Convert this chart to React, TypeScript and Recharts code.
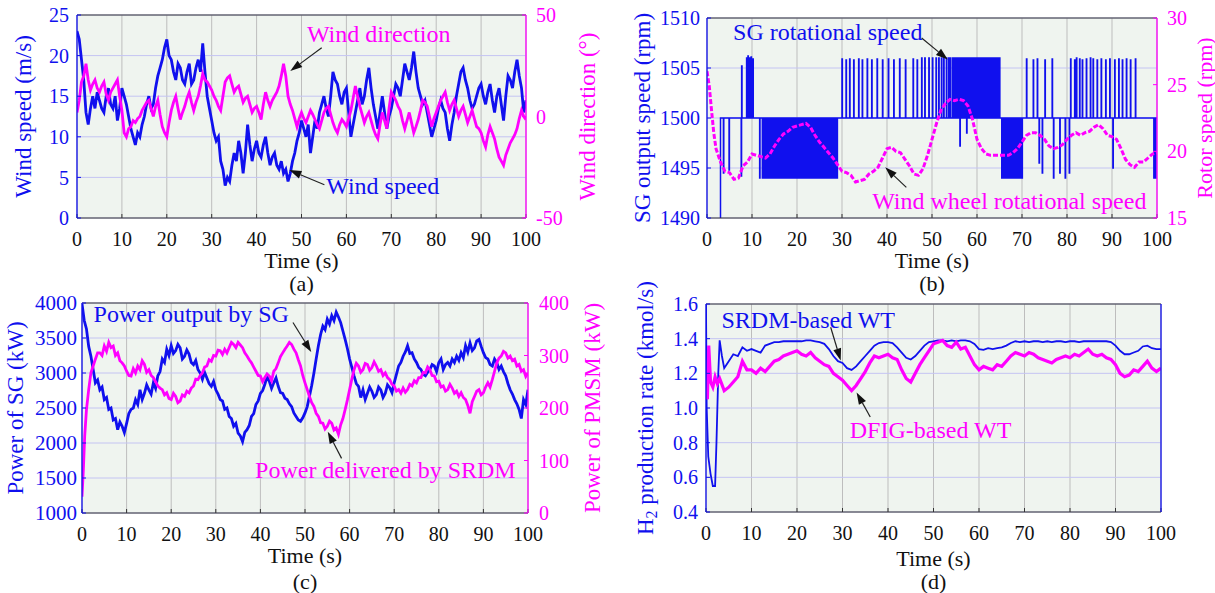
import React from 'react';
import { LineChart, Line, XAxis, YAxis, CartesianGrid, ReferenceLine, ReferenceDot, Label } from 'recharts';

const SERIF = '"Liberation Serif", "Times New Roman", serif';
const BLUE = '#1010ee';
const MAGENTA = '#ff00ff';
const AXIS_DARK = '#333333';
const PLOT_BG = '#eff4ef';
const GRID_V = '#bdbdbd';
const GRID_H = '#c4c4f2';

const timeTicks = [0, 10, 20, 30, 40, 50, 60, 70, 80, 90, 100];

// (a) wind, 0.5 s step
const windSpeed = [
  23, 22, 19.5, 17, 13, 11.5, 13.5, 15, 13.5, 15.5, 14.5, 13.5, 13, 15, 16, 14, 13.5, 15, 12, 13.5,
  16, 15, 14, 12.5, 11, 10, 9, 10.5, 10, 11.5, 12.5, 14, 15, 13.5, 14, 16, 17.5, 18.5, 19.5, 21,
  22, 20, 19.5, 18, 17, 19, 18.5, 17, 16.5, 18, 19, 16.5, 17, 18.5, 19.5, 18, 21.5, 18, 15, 13.5,
  12, 10.5, 9.5, 10, 7, 6, 4, 5, 4.5, 6.5, 8, 7, 9.5, 8, 5.5, 8, 11.5, 9, 7, 8.5,
  9.5, 8, 7.5, 9, 10, 8, 6.5, 7.5, 8, 6.5, 6, 7, 5.5, 6, 4.5, 5.5, 7, 8, 9.5, 10.5,
  12, 11, 10, 11.5, 8, 10, 12, 11, 13, 14, 15, 13.5, 12.5, 15, 18, 17, 16.5, 15, 14, 15.5,
  16, 13, 10, 11.5, 13, 14.5, 16, 14, 15, 17, 18.5, 16, 14, 12.5, 11, 13, 15, 13, 11, 12.5,
  13.5, 15, 16.5, 16, 15, 17, 19, 18, 17, 18.5, 20.5, 18, 16, 15, 14, 14.5, 13, 11.5, 10, 11,
  12, 13.5, 14.5, 13.5, 13, 11, 9.5, 11.5, 13, 15, 16.5, 18, 18.5, 17, 16, 14.5, 13.5, 14, 15, 16,
  16.5, 15, 14, 15.5, 16.5, 14.5, 13, 15, 16, 14, 12, 15, 17.5, 17, 16, 18, 19.5, 17.5, 16, 13,
  14.5,
];
const windDirection = [
  2, 8, 17, 20, 26, 18, 13, 16, 18, 14, 12, 15, 17, 11, 8, 12, 14, 16, 18, 10,
  3, -8, -10, -6, -5, -2, -3, -1, 0, 3, 5, 7, 8, 4, 0, 5, 8, 1, -5, -8,
  -10, -3, 3, 7, 10, 4, -1.5, 2, 5, 9, 12, 7, 3, 7, 10, 15, 21, 18, 17, 15,
  13, 10, 8, 5, 3, 10, 17, 19, 20, 16, 12, 14, 15, 11, 7, 9, 10, 6, 2, 4,
  5, 2, -1.5, 6, 12, 8, 5, 8, 10, 12, 15, 20, 26, 20, 10, 6, 3, -1, -5, -1,
  2, -1, -3, 0, 3, 1, -1.5, -4, -6, -2, 2, 4, 5, 1, -3, -6, -8, -4, -1.5, -3,
  -5, -1, 3, 9, 15, 10, 5, 1, -3, 0, 2, -2, -6, -9, -11, -4, 2, -2, -6, 4,
  12, 10, 8, 5, 3, -2, -6, -2, 2, -3, -8, -5, -1.5, 3, 8, 7, 5, 0, -5, -1,
  2, 5, 8, 10, 12, 7, 3, 6, 8, 4, 0, 3, 5, 1, -3, 0, 3, -1, -5, -6,
  -8, -12, -15, -9, -5, -8, -11, -16, -20, -22, -24, -19, -16, -13, -11, -9, -6, -1, 3, 0,
  -1.5,
];

// (b) SG speed: switching spikes around 1500 rpm
const sgStart = 3.0;
const sgSpikes: number[][] = [
  [3.65, 1494.5], [4.9, 1494.8], [7.6, 1494.2], [7.7, 1505.2], [8.8, 1506], [9.1, 1506.2], [9.4, 1506],
  [9.8, 1506.1], [10.2, 1505.9], [11.7, 1494],
  [30.0, 1505.9], [30.9, 1505.8], [31.7, 1505.9], [32.6, 1505.8], [33.7, 1505.9], [34.5, 1505.8],
  [35.6, 1505.9], [36.6, 1505.8], [37.8, 1505.9], [39.0, 1505.8], [40.3, 1505.9], [41.5, 1505.8],
  [42.8, 1505.9], [44.1, 1505.8], [45.8, 1505.9], [46.7, 1505.8],
  [56.2, 1497.2], [57.7, 1498.5],
  [71.0, 1505.9], [72.5, 1505.8], [73.4, 1505.9], [73.8, 1495.5], [74.5, 1494.5], [75.1, 1505.8],
  [76.7, 1505.9], [77.0, 1494], [78.4, 1494.5], [79.6, 1494], [80.5, 1494.5],
  [80.8, 1505.9], [81.7, 1505.8], [82.1, 1506], [82.8, 1505.9], [83.4, 1505.8], [84.3, 1505.9],
  [85.2, 1506], [85.8, 1505.9], [86.7, 1505.8], [87.6, 1505.9], [88.6, 1505.8], [89.5, 1505.9],
  [90.2, 1495], [90.6, 1505.8], [91.5, 1505.9], [92.3, 1505.8], [93.2, 1505.9], [94.1, 1505.8],
  [95.2, 1505.9], [99.3, 1494], [99.7, 1494],
];
const sgDenseLow = [
  12.3, 12.6, 12.9, 13.3, 13.6, 13.9, 14.2, 14.6, 14.9, 15.2, 15.5, 15.9, 16.2, 16.5, 16.8, 17.2, 17.5,
  17.8, 18.1, 18.5, 18.8, 19.1, 19.4, 19.8, 20.1, 20.4, 20.7, 21.1, 21.4, 21.7, 22.0, 22.4, 22.7, 23.0,
  23.3, 23.7, 24.0, 24.3, 24.6, 25.0, 25.3, 25.6, 25.9, 26.3, 26.6, 26.9, 27.2, 27.6, 27.9, 28.2, 28.5, 28.9,
  65.5, 65.8, 66.1, 66.5, 66.8, 67.1, 67.4, 67.8, 68.1, 68.4, 68.7, 69.1, 69.4, 69.7, 70.0,
];
const sgDenseHigh = [
  47.7, 48.4, 49.3, 50.1, 50.9, 51.5, 52.1, 52.6, 53.2, 53.7, 54.1, 54.6, 55.0, 55.4, 55.7, 56.0,
  56.4, 56.7, 57.0, 57.3, 57.6, 58.0, 58.3, 58.6, 58.9, 59.2, 59.5, 59.8, 60.1, 60.4, 60.7, 61.0,
  61.3, 61.6, 61.9, 62.2, 62.5, 62.8, 63.1, 63.4, 63.7, 64.0, 64.3, 64.6, 65.0,
];
const SG_LOW = 1494;
const SG_HIGH = 1506;
const SG_BASE = 1500;

// (b) wind wheel speed, head then 1 s step from t=3
const wheelHead = [[0, 26], [0.5, 24.9], [1, 23.1], [1.5, 21.4], [2, 20.2]];
const wheelSpeed = [
  19.2, 18.5, 18.4, 17.9, 18.0, 18.9, 19.2, 19.8, 19.7, 19.6, 19.5, 19.8, 20.4, 20.9, 21.3, 21.5, 21.8,
  21.9, 22.0, 22.1, 21.8, 21.2, 20.7, 20.3, 19.9, 19.5, 19.0, 18.5, 18.4, 18.2, 17.7, 17.8, 17.9, 18.3,
  18.5, 18.8, 19.5, 20.2, 20.3, 20.0, 19.9, 19.4, 18.9, 18.3, 18.2, 18.7, 19.7, 20.9, 22.1, 23.1, 23.6,
  23.9, 23.8, 23.9, 23.8, 23.4, 22.4, 20.9, 20.2, 19.8, 19.7, 19.7, 19.7, 19.7, 19.7, 19.9, 20.2, 20.7,
  21.2, 21.4, 21.4, 21.2, 20.9, 20.4, 20.2, 20.3, 20.5, 20.9, 21.2, 21.4, 21.2, 21.4, 21.5, 21.8, 22.0,
  21.7, 21.2, 21.1, 20.9, 20.2, 19.4, 19.0, 18.8, 19.2, 19.2, 19.5, 19.8, 19.9,
];

// (c) power, 0.5 s step
const powerSG = [
  3990, 3750, 3630, 3380, 3240, 3050, 2860, 2900, 2760, 2800, 2620, 2650, 2480, 2500, 2330, 2350, 2190, 2300, 2240, 2150,
  2280, 2420, 2480, 2500, 2620, 2550, 2760, 2620, 2710, 2830, 2760, 2700, 2860, 2780, 2960, 3020, 3200, 3150, 3340, 3250,
  3390, 3280, 3320, 3410, 3360, 3200, 3240, 3330, 3270, 3150, 3120, 3180, 3050, 3000, 2910, 3010, 2930, 2850, 2810, 2880,
  2760, 2700, 2620, 2600, 2480, 2500, 2380, 2350, 2240, 2280, 2140, 2100, 2020, 2150, 2190, 2250, 2380, 2420, 2550, 2600,
  2710, 2750, 2840, 2950, 2880, 2780, 2860, 2930, 2810, 2720, 2710, 2640, 2620, 2560, 2520, 2430, 2380, 2330, 2310, 2360,
  2430, 2520, 2670, 2820, 3000, 3200, 3390, 3550, 3670, 3620, 3770, 3700, 3820, 3750, 3870, 3800, 3720, 3600, 3480, 3350,
  3200, 3080, 2960, 2850, 2810, 2650, 2760, 2620, 2710, 2800, 2740, 2650, 2690, 2800, 2760, 2650, 2710, 2830, 2790, 2720,
  2860, 2980, 3100, 3150, 3240, 3300, 3390, 3280, 3290, 3200, 3150, 3080, 3050, 2980, 2960, 3010, 3050, 3120, 3100, 3020,
  3150, 3200, 3050, 3120, 3150, 3100, 3200, 3150, 3240, 3180, 3290, 3220, 3390, 3300, 3430, 3320, 3360, 3460, 3480, 3380,
  3290, 3220, 3200, 3120, 3100, 3200, 3150, 3050, 3100, 3020, 2960, 2850, 2760, 2700, 2620, 2560, 2480, 2350, 2620, 2550,
  2760,
];
const srdmHead = [[0, 31], [0.3, 82], [0.6, 146], [1, 197], [1.5, 235], [2, 267], [2.5, 280]];
const powerSRDM = [
  293, 305, 305, 300, 318, 308, 325, 315, 318, 300, 305, 290, 286, 280, 270, 262, 261, 275, 267, 280,
  273, 290, 283, 268, 273, 262, 258, 250, 242, 238, 235, 225, 229, 218, 216, 228, 222, 210, 213, 225,
  222, 232, 229, 238, 242, 255, 254, 262, 267, 278, 280, 292, 289, 300, 299, 310, 309, 302, 312, 305,
  315, 325, 321, 315, 325, 320, 315, 305, 299, 292, 286, 278, 270, 262, 261, 250, 258, 265, 261, 252,
  270, 275, 286, 298, 305, 312, 318, 325, 321, 312, 305, 292, 280, 262, 248, 235, 222, 210, 203, 190,
  184, 172, 171, 160, 165, 175, 171, 158, 162, 150, 168, 180, 197, 215, 235, 255, 273, 285, 280, 268,
  273, 285, 283, 272, 277, 288, 280, 270, 273, 262, 267, 258, 254, 245, 242, 232, 235, 228, 238, 230,
  235, 245, 242, 252, 248, 258, 258, 268, 267, 278, 273, 262, 261, 250, 251, 240, 242, 232, 235, 245,
  238, 228, 232, 222, 229, 220, 216, 205, 190, 212, 222, 232, 235, 225, 229, 240, 248, 240, 254, 270,
  286, 295, 299, 308, 305, 295, 299, 290, 293, 280, 283, 270, 273, 260, 267,
];

// (d) H2 production rate, head then 1 s step from t=4
const srdmWtHead = [[0, 1.6], [0.15, 1.0], [0.5, 0.72], [1, 0.62], [1.5, 0.55], [2, 0.55], [2.3, 0.8], [2.7, 1.2], [3, 1.39], [3.5, 1.3]];
const srdmWt = [
  1.23, 1.27, 1.31, 1.30, 1.35, 1.33, 1.34, 1.33, 1.32, 1.36, 1.37, 1.38, 1.38, 1.385, 1.385, 1.385, 1.385,
  1.385, 1.39, 1.39, 1.385, 1.38, 1.37, 1.34, 1.30, 1.27, 1.26, 1.23, 1.22, 1.24, 1.27, 1.30, 1.33, 1.36,
  1.375, 1.38, 1.38, 1.375, 1.35, 1.32, 1.29, 1.28, 1.30, 1.33, 1.36, 1.38, 1.385, 1.39, 1.39, 1.385, 1.39,
  1.385, 1.39, 1.39, 1.385, 1.37, 1.34, 1.335, 1.345, 1.34, 1.345, 1.35, 1.36, 1.375, 1.385, 1.38, 1.385,
  1.38, 1.385, 1.385, 1.38, 1.385, 1.38, 1.385, 1.385, 1.38, 1.385, 1.385, 1.38, 1.385, 1.385, 1.385, 1.385,
  1.385, 1.385, 1.38, 1.36, 1.33, 1.31, 1.31, 1.32, 1.33, 1.355, 1.36, 1.345, 1.34, 1.34,
];
const dfigWtHead = [[0, 1.1], [0.3, 1.05], [0.6, 1.36], [1, 1.15], [1.5, 1.12], [2, 1.18], [2.5, 1.14], [3, 1.17]];
const dfigWt = [
  1.10, 1.12, 1.15, 1.18, 1.27, 1.22, 1.22, 1.20, 1.23, 1.21, 1.24, 1.27, 1.28, 1.30, 1.31, 1.32, 1.33,
  1.31, 1.30, 1.32, 1.29, 1.27, 1.25, 1.24, 1.20, 1.18, 1.16, 1.13, 1.10, 1.13, 1.17, 1.21, 1.26, 1.30,
  1.29, 1.30, 1.31, 1.29, 1.28, 1.22, 1.17, 1.15, 1.20, 1.25, 1.29, 1.33, 1.37, 1.38, 1.39, 1.36, 1.35,
  1.38, 1.34, 1.35, 1.30, 1.25, 1.22, 1.24, 1.23, 1.22, 1.25, 1.24, 1.27, 1.30, 1.32, 1.31, 1.30, 1.32,
  1.31, 1.29, 1.28, 1.27, 1.26, 1.28, 1.29, 1.30, 1.29, 1.31, 1.30, 1.32, 1.34, 1.31, 1.30, 1.31, 1.29,
  1.28, 1.25, 1.20, 1.18, 1.19, 1.22, 1.21, 1.24, 1.27, 1.23, 1.21, 1.23,
];

type Pt = { t: number; v: number };
const stepPts = (vals: number[], step: number, t0 = 0): Pt[] =>
  vals.map((v, i) => ({ t: Math.round((t0 + i * step) * 100) / 100, v }));
const pairPts = (p: number[][]): Pt[] => p.map(([t, v]) => ({ t, v }));

const buildSg = (): Pt[] => {
  const spikes: number[][] = [
    ...sgSpikes,
    ...sgDenseLow.map((t) => [t, SG_LOW]),
    ...sgDenseHigh.map((t) => [t, SG_HIGH]),
  ].sort((a, b) => a[0] - b[0]);
  const pts: Pt[] = [{ t: 0, v: 1489 }, { t: sgStart, v: 1489 }, { t: sgStart, v: SG_BASE }];
  spikes.forEach(([t, lvl]) => {
    pts.push({ t, v: SG_BASE }, { t, v: lvl }, { t: t + 0.08, v: lvl }, { t: t + 0.08, v: SG_BASE });
  });
  pts.push({ t: 100, v: SG_BASE });
  return pts;
};

type AxisId = 'l' | 'r';
type SeriesDef = { key: string; data: Pt[]; axis: AxisId; color: string; width: number; dash?: string };
type NoteDef = { text: string; color: string; t: number; v: number; axis: AxisId };
type ArrowDef = { t1: number; v1: number; t2: number; v2: number; axis: AxisId };

const arrowShape = (p: any) => {
  const { x1, y1, x2, y2 } = p;
  const ang = Math.atan2(y2 - y1, x2 - x1);
  const L = 12;
  const W = 4;
  const bx = x2 - L * Math.cos(ang);
  const by = y2 - L * Math.sin(ang);
  const px = -Math.sin(ang) * W;
  const py = Math.cos(ang) * W;
  return (
    <g>
      <line x1={x1} y1={y1} x2={bx} y2={by} stroke="#222" strokeWidth={1.2} />
      <polygon points={`${x2},${y2} ${bx + px},${by + py} ${bx - px},${by - py}`} fill="#111" />
    </g>
  );
};

const noteShape = (text: string, color: string) => (p: any) => (
  <text x={p.cx} y={p.cy} fill={color} fontFamily={SERIF} fontSize={24} dominantBaseline="central">
    {text}
  </text>
);

const yTitle = (text: string, color: string, dx: number, size = 23) => (props: any) => {
  const vb = props.viewBox || { x: 0, y: 0, width: 0, height: 0 };
  const x = vb.x + dx;
  const y = vb.y + vb.height / 2;
  return (
    <text x={x} y={y} transform={`rotate(-90 ${x} ${y})`} textAnchor="middle" dominantBaseline="central"
      fill={color} fontFamily={SERIF} fontSize={size}>
      {text}
    </text>
  );
};

// H2 title: starts just below the plot bottom and runs upward
const h2Title = (props: any) => {
  const vb = props.viewBox || { x: 0, y: 0, width: 0, height: 0 };
  const x = vb.x + 45;
  const y = vb.y + vb.height + 23;
  return (
    <text x={x} y={y} transform={`rotate(-90 ${x} ${y})`} textAnchor="start" dominantBaseline="central"
      fill={BLUE} fontFamily={SERIF} fontSize={23}>
      <tspan>H</tspan>
      <tspan dy={6} fontSize={16}>2</tspan>
      <tspan dy={-6}> production rate (kmol/s)</tspan>
    </text>
  );
};

const xTitle = (letter: string, dy1: number, dy2: number) => (props: any) => {
  const vb = props.viewBox || { x: 0, y: 0, width: 0, height: 0 };
  const cx = vb.x + vb.width / 2;
  return (
    <g fontFamily={SERIF} fill="#111" textAnchor="middle" dominantBaseline="central">
      <text x={cx} y={vb.y + dy1} fontSize={22}>Time (s)</text>
      <text x={cx} y={vb.y + dy2} fontSize={22}>({letter})</text>
    </g>
  );
};

interface PanelProps {
  left: number; top: number; width: number; height: number;
  marginTop: number; leftW: number; rightW: number; xAxisH: number;
  lDomain: [number, number]; lTicks: number[]; lFmt?: (v: number) => string; lFont?: number; lGap: number;
  rDomain: [number, number]; rTicks?: number[]; rColor: string; rGap: number;
  leftTitle: (p: any) => React.ReactNode; rightTitle?: (p: any) => React.ReactNode;
  xLabel: (p: any) => React.ReactNode;
  series: SeriesDef[]; notes: NoteDef[]; arrows: ArrowDef[]; clipLeft?: boolean;
}

const Panel = (pp: PanelProps) => (
  <div style={{ position: 'absolute', left: pp.left, top: pp.top }}>
    <LineChart width={pp.width} height={pp.height} margin={{ top: pp.marginTop, right: 0, bottom: 0, left: 0 }}>
      <CartesianGrid yAxisId="l" horizontal={false} stroke={GRID_V} fill={PLOT_BG} fillOpacity={1} />
      <CartesianGrid yAxisId="l" vertical={false} stroke={GRID_H} />
      <XAxis type="number" dataKey="t" domain={[0, 100]} ticks={timeTicks} allowDataOverflow
        height={pp.xAxisH} tickSize={-4} tickMargin={17.4}
        tick={{ fill: '#111', fontSize: 20, fontFamily: SERIF }}
        tickLine={{ stroke: AXIS_DARK }} axisLine={{ stroke: AXIS_DARK }}
        label={<Label content={pp.xLabel} />} />
      <YAxis yAxisId="l" type="number" domain={pp.lDomain} ticks={pp.lTicks} width={pp.leftW}
        allowDataOverflow={!!pp.clipLeft} tickFormatter={pp.lFmt} interval={0}
        tickSize={-4} tickMargin={4 + pp.lGap}
        tick={{ fill: BLUE, fontSize: pp.lFont || 20, fontFamily: SERIF }}
        tickLine={{ stroke: BLUE }} axisLine={{ stroke: BLUE, strokeWidth: 1.3 }}
        label={<Label content={pp.leftTitle} />} />
      <YAxis yAxisId="r" orientation="right" type="number" domain={pp.rDomain} ticks={pp.rTicks}
        width={pp.rightW} interval={0} tickSize={-4} tickMargin={4 + pp.rGap}
        tick={pp.rTicks ? { fill: pp.rColor, fontSize: 20, fontFamily: SERIF } : false}
        tickLine={pp.rTicks ? { stroke: pp.rColor } : false} axisLine={{ stroke: pp.rColor, strokeWidth: 1.3 }}
        label={pp.rightTitle ? <Label content={pp.rightTitle} /> : undefined} />
      <ReferenceLine yAxisId="l" y={pp.lDomain[1]} stroke={AXIS_DARK} strokeWidth={1} />
      {pp.series.map((s) => (
        <Line key={s.key} yAxisId={s.axis} data={s.data} dataKey="v" type="linear" stroke={s.color}
          strokeWidth={s.width} strokeDasharray={s.dash} dot={false} activeDot={false}
          isAnimationActive={false} />
      ))}
      {pp.arrows.map((a, i) => (
        <ReferenceLine key={'ar' + i} yAxisId={a.axis}
          segment={[{ x: a.t1, y: a.v1 }, { x: a.t2, y: a.v2 }]} shape={arrowShape} />
      ))}
      {pp.notes.map((n, i) => (
        <ReferenceDot key={'nt' + i} yAxisId={n.axis} x={n.t} y={n.v} r={0} shape={noteShape(n.text, n.color)} />
      ))}
    </LineChart>
  </div>
);

export default function App() {
  return (
    <div style={{ position: 'absolute', left: 0, top: 0, width: 1215, height: 593, background: '#fff', overflow: 'hidden' }}>
      <Panel left={0} top={0} width={605} height={300} marginTop={15} leftW={77} rightW={79} xAxisH={82}
        lDomain={[0, 25]} lTicks={[0, 5, 10, 15, 20, 25]} lGap={8}
        rDomain={[-50, 50]} rTicks={[-50, 0, 50]} rColor={MAGENTA} rGap={10}
        leftTitle={yTitle('Wind speed (m/s)', BLUE, 23)}
        rightTitle={yTitle('Wind direction (°)', MAGENTA, 61)}
        xLabel={xTitle('a', 42, 65)}
        series={[
          { key: 'ws', data: stepPts(windSpeed, 0.5), axis: 'l', color: BLUE, width: 2.8 },
          { key: 'wd', data: stepPts(windDirection, 0.5), axis: 'r', color: MAGENTA, width: 2.8 },
        ]}
        arrows={[
          { t1: 54.5, v1: 33.9, t2: 47.5, v2: 22.4, axis: 'r' },
          { t1: 55.1, v1: 4.1, t2: 47.3, v2: 5.9, axis: 'l' },
        ]}
        notes={[
          { text: 'Wind direction', color: MAGENTA, t: 51.2, v: 40.5, axis: 'r' },
          { text: 'Wind speed', color: BLUE, t: 55.5, v: 3.9, axis: 'l' },
        ]} />
      <Panel left={600} top={0} width={615} height={300} marginTop={18} leftW={107} rightW={58} xAxisH={82}
        lDomain={[1490, 1510]} lTicks={[1490, 1495, 1500, 1505, 1510]} lGap={7} clipLeft
        rDomain={[15, 30]} rTicks={[15, 20, 25, 30]} rColor={MAGENTA} rGap={10}
        leftTitle={yTitle('SG output speed (rpm)', BLUE, 42)}
        rightTitle={yTitle('Rotor speed (rpm)', MAGENTA, 47, 22)}
        xLabel={xTitle('b', 42, 65)}
        series={[
          { key: 'sg', data: buildSg(), axis: 'l', color: BLUE, width: 1.5 },
          { key: 'ww', data: [...pairPts(wheelHead), ...stepPts(wheelSpeed, 1, 3)], axis: 'r', color: MAGENTA, width: 3, dash: '5 2' },
        ]}
        arrows={[
          { t1: 47.7, v1: 1508.0, t2: 53.5, v2: 1505.85, axis: 'l' },
          { t1: 44.3, v1: 17.3, t2: 39.6, v2: 18.8, axis: 'r' },
        ]}
        notes={[
          { text: 'SG rotational speed', color: BLUE, t: 5.8, v: 1508.6, axis: 'l' },
          { text: 'Wind wheel rotational speed', color: MAGENTA, t: 36.7, v: 16.3, axis: 'r' },
        ]} />
      <Panel left={0} top={290} width={605} height={303} marginTop={13} leftW={82} rightW={77} xAxisH={80}
        lDomain={[1000, 4000]} lTicks={[1000, 1500, 2000, 2500, 3000, 3500, 4000]} lGap={5} lFont={21}
        rDomain={[0, 400]} rTicks={[0, 100, 200, 300, 400]} rColor={MAGENTA} rGap={11}
        leftTitle={yTitle('Power of SG (kW)', BLUE, 15)}
        rightTitle={yTitle('Power of PMSM (kW)', MAGENTA, 64)}
        xLabel={xTitle('c', 42, 68)}
        series={[
          { key: 'psg', data: stepPts(powerSG, 0.5), axis: 'l', color: BLUE, width: 2.8 },
          { key: 'psr', data: [...pairPts(srdmHead), ...stepPts(powerSRDM, 0.5, 3)], axis: 'r', color: MAGENTA, width: 2.8 },
        ]}
        arrows={[
          { t1: 47.3, v1: 3722, t2: 51.4, v2: 3300, axis: 'l' },
          { t1: 58.2, v1: 104, t2: 55.1, v2: 155, axis: 'r' },
        ]}
        notes={[
          { text: 'Power output by SG', color: BLUE, t: 2.6, v: 3842, axis: 'l' },
          { text: 'Power delivered by SRDM', color: MAGENTA, t: 38.8, v: 82, axis: 'r' },
        ]} />
      <Panel left={600} top={262} width={615} height={331} marginTop={42} leftW={106} rightW={54} xAxisH={81}
        lDomain={[0.4, 1.6]} lTicks={[0.4, 0.6, 0.8, 1.0, 1.2, 1.4, 1.6]} lFmt={(v) => v.toFixed(1)} lGap={8}
        rDomain={[0.4, 1.6]} rColor={BLUE} rGap={10}
        leftTitle={h2Title}
        xLabel={xTitle('d', 46, 69)}
        series={[
          { key: 'srdm', data: [...pairPts(srdmWtHead), ...stepPts(srdmWt, 1, 4)], axis: 'l', color: BLUE, width: 1.8 },
          { key: 'dfig', data: [...pairPts(dfigWtHead), ...stepPts(dfigWt, 1, 4)], axis: 'l', color: MAGENTA, width: 3.2 },
        ]}
        arrows={[
          { t1: 27.4, v1: 1.466, t2: 29.6, v2: 1.274, axis: 'l' },
          { t1: 36.1, v1: 0.948, t2: 33.1, v2: 1.09, axis: 'l' },
        ]}
        notes={[
          { text: 'SRDM-based WT', color: BLUE, t: 3.4, v: 1.508, axis: 'l' },
          { text: 'DFIG-based WT', color: MAGENTA, t: 31.6, v: 0.875, axis: 'l' },
        ]} />
    </div>
  );
}
